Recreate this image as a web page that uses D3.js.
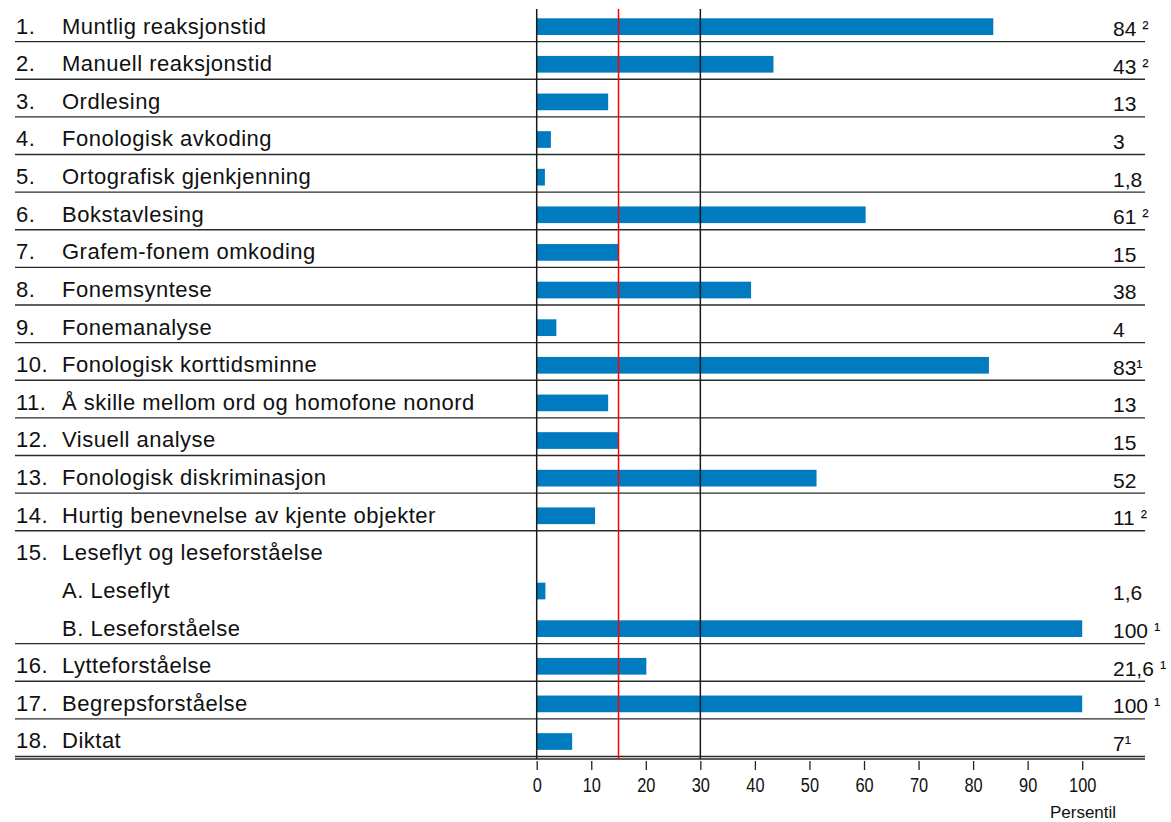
<!DOCTYPE html>
<html>
<head>
<meta charset="utf-8">
<script src="https://cdn.jsdelivr.net/npm/d3@7"></script>
<style>
  html, body { margin: 0; padding: 0; background: #fff; }
  svg { display: block; font-family: "Liberation Sans", Arial, sans-serif; }
</style>
</head>
<body>
<div id="root"></div>
<script>
// row numbers ("" = sub item of the row above)
const numbers = ['1.', '2.', '3.', '4.', '5.', '6.', '7.', '8.', '9.', '10.', '11.', '12.', '13.', '14.', '15.', '', '', '16.', '17.', '18.']
const labels = [
  'Muntlig reaksjonstid', 'Manuell reaksjonstid', 'Ordlesing', 'Fonologisk avkoding',
  'Ortografisk gjenkjenning', 'Bokstavlesing', 'Grafem-fonem omkoding', 'Fonemsyntese',
  'Fonemanalyse', 'Fonologisk korttidsminne', 'Å skille mellom ord og homofone nonord',
  'Visuell analyse', 'Fonologisk diskriminasjon', 'Hurtig benevnelse av kjente objekter',
  'Leseflyt og leseforståelse', 'A. Leseflyt', 'B. Leseforståelse', 'Lytteforståelse',
  'Begrepsforståelse', 'Diktat'
]
// bar lengths as drawn (percentile)
const barValues = [83.7, 43.4, 13.1, 2.6, 1.5, 60.3, 15.1, 39.3, 3.6, 82.9, 13.1, 14.9, 51.3, 10.7, null, 1.6, 100, 20.1, 100, 6.5]
// printed values and footnote marks
const valueLabels = ['84', '43', '13', '3', '1,8', '61', '15', '38', '4', '83', '13', '15', '52', '11', '', '1,6', '100', '21,6', '100', '7']
const notes = [' ²', ' ²', '', '', '', ' ²', '', '', '', '¹', '', '', '', ' ²', '', '', ' ¹', ' ¹', ' ¹', '¹']
const tickValues = [0, 10, 20, 30, 40, 50, 60, 70, 80, 90, 100]
const refLines = [{ v: 0, color: '#1a1a1a' }, { v: 15, color: '#ff0000' }, { v: 30, color: '#1a1a1a' }]
const axisTitle = 'Persentil'

const width = 1171
const height = 822

const svg = d3.select('#root').append('svg')
  .attr('width', width)
  .attr('height', height)

const x = d3.scaleLinear().domain([0, 100]).range([536.7, 1082.2])
const y = d3.scaleBand().domain(d3.range(labels.length)).range([4, 756.5])
const bw = y.bandwidth()

const rows = labels.map((l, i) => ({
  i,
  num: numbers[i],
  label: l,
  bar: barValues[i],
  val: valueLabels[i],
  note: notes[i],
  sep: i === labels.length - 1 || numbers[i + 1] !== ''
}))

// separator lines
svg.append('g')
  .selectAll('line')
  .data(rows.filter(d => d.sep))
  .join('line')
  .attr('x1', 15)
  .attr('x2', 1145)
  .attr('y1', d => y(d.i) + bw)
  .attr('y2', d => y(d.i) + bw)
  .attr('stroke', '#2a2a2a')
  .attr('stroke-width', 1.4)

// axis base line
svg.append('line')
  .attr('x1', 15)
  .attr('x2', 1145)
  .attr('y1', 759)
  .attr('y2', 759)
  .attr('stroke', '#2a2a2a')
  .attr('stroke-width', 1.4)

// bars
svg.append('g')
  .selectAll('rect')
  .data(rows.filter(d => d.bar != null))
  .join('rect')
  .attr('x', x(0))
  .attr('y', d => y(d.i) + 14.3)
  .attr('width', d => x(d.bar) - x(0))
  .attr('height', 16.7)
  .attr('fill', '#007bc0')

// reference lines
svg.append('g')
  .selectAll('line')
  .data(refLines)
  .join('line')
  .attr('x1', d => x(d.v))
  .attr('x2', d => x(d.v))
  .attr('y1', 9)
  .attr('y2', 759)
  .attr('stroke', d => d.color)
  .attr('stroke-width', 1.5)

// row labels
const lab = svg.append('g')
  .attr('font-size', 22)
  .attr('fill', '#111')
  .style('letter-spacing', '0.5px')

lab.selectAll('text.num')
  .data(rows)
  .join('text')
  .attr('class', 'num')
  .attr('x', 16)
  .attr('y', d => y(d.i) + 29.5)
  .text(d => d.num)

lab.selectAll('text.lab')
  .data(rows)
  .join('text')
  .attr('class', 'lab')
  .attr('x', 62)
  .attr('y', d => y(d.i) + 29.5)
  .text(d => d.label)

// value labels
const vals = svg.append('g')
  .attr('font-size', 21)
  .attr('fill', '#111')
  .selectAll('text')
  .data(rows.filter(d => d.val !== ''))
  .join('text')
  .attr('x', 1113)
  .attr('y', d => y(d.i) + 32)

vals.append('tspan').text(d => d.val)
vals.append('tspan')
  .attr('dx', d => (d.note.startsWith(' ') ? 6 : 0))
  .attr('font-size', 19)
  .attr('dy', -2)
  .text(d => d.note.trim())

// x axis
const axis = svg.append('g')
  .attr('transform', 'translate(0,761)')
  .call(d3.axisBottom(x).tickValues(tickValues).tickSize(9).tickPadding(8).tickFormat(d3.format('d')))

axis.select('.domain').remove()
axis.selectAll('.tick line').attr('stroke', '#222').attr('stroke-width', 1.3)
axis.selectAll('.tick text')
  .attr('font-size', 19.5)
  .attr('font-family', '"Liberation Sans", Arial, sans-serif')
  .attr('fill', '#111')
  .attr('transform', 'scale(0.84,1)')

svg.append('text')
  .attr('x', 1083)
  .attr('y', 818)
  .attr('text-anchor', 'middle')
  .attr('font-size', 17)
  .attr('fill', '#111')
  .text(axisTitle)
</script>
</body>
</html>
